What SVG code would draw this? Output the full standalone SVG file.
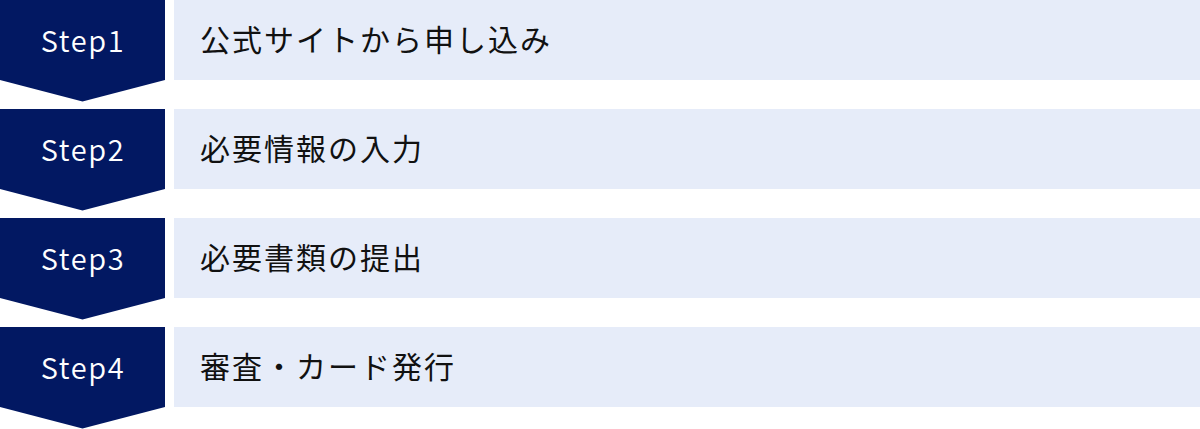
<svg xmlns="http://www.w3.org/2000/svg" width="1200" height="429" viewBox="0 0 1200 429">
<style>
.badge{fill:#021862}
.bar{fill:#e6ecf9}
.st{font-family:"Noto Sans CJK JP","Noto Sans",sans-serif;font-size:29px;font-weight:350;fill:#ffffff;text-anchor:middle;letter-spacing:1.6px}
.lb{font-family:"Noto Sans CJK JP","Noto Sans",sans-serif;font-size:30px;fill:#111111;letter-spacing:2px}
</style>
<defs>
<polygon id="chev" points="0,0 165,0 165,80 82.5,101.5 0,80"/>
</defs>
<rect width="1200" height="429" fill="#ffffff"/>
<g id="step1">
<use href="#chev" class="badge"/>
<rect class="bar" x="174" y="0" width="1026" height="80"/>
<text class="st" x="83" y="52">Step1</text>
<text class="lb" x="200" y="51">公式サイトから申し込み</text>
</g>
<g id="step2" transform="translate(0,109)">
<use href="#chev" class="badge"/>
<rect class="bar" x="174" y="0" width="1026" height="80"/>
<text class="st" x="83" y="52">Step2</text>
<text class="lb" x="200" y="51">必要情報の入力</text>
</g>
<g id="step3" transform="translate(0,218)">
<use href="#chev" class="badge"/>
<rect class="bar" x="174" y="0" width="1026" height="80"/>
<text class="st" x="83" y="52">Step3</text>
<text class="lb" x="200" y="51">必要書類の提出</text>
</g>
<g id="step4" transform="translate(0,327)">
<use href="#chev" class="badge"/>
<rect class="bar" x="174" y="0" width="1026" height="80"/>
<text class="st" x="83" y="52">Step4</text>
<text class="lb" x="200" y="51">審査・カード発行</text>
</g>
</svg>
